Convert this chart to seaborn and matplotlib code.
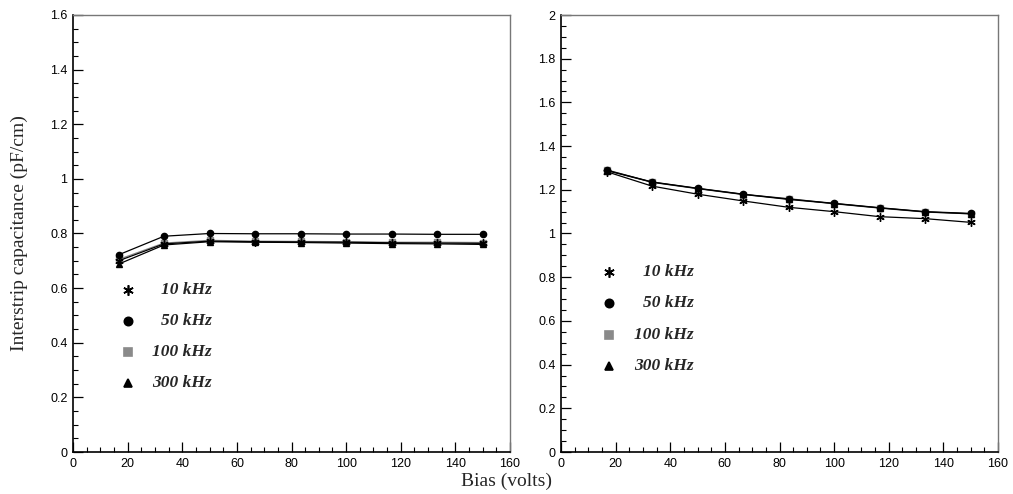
import numpy as np
import pandas as pd
import matplotlib
matplotlib.use("Agg")
import matplotlib.pyplot as plt
import seaborn as sns
from matplotlib.ticker import MultipleLocator, FixedLocator

# ---- data ----
bias = [16.7, 33.3, 50.0, 66.7, 83.3, 100.0, 116.7, 133.3, 150.0]
freqs = ["10 kHz", "50 kHz", "100 kHz", "300 kHz"]

left_10 = [0.700, 0.762, 0.772, 0.770, 0.769, 0.768, 0.766, 0.765, 0.764]
left_50 = [0.722, 0.790, 0.800, 0.799, 0.799, 0.798, 0.798, 0.797, 0.797]
left_100 = [0.705, 0.765, 0.775, 0.772, 0.771, 0.770, 0.768, 0.768, 0.767]
left_300 = [0.688, 0.758, 0.770, 0.768, 0.767, 0.765, 0.763, 0.762, 0.760]

right_10 = [1.283, 1.217, 1.180, 1.149, 1.120, 1.100, 1.077, 1.068, 1.051]
right_50 = [1.290, 1.236, 1.207, 1.180, 1.158, 1.138, 1.118, 1.100, 1.092]
right_100 = [1.292, 1.234, 1.205, 1.178, 1.160, 1.136, 1.116, 1.098, 1.090]
right_300 = [1.288, 1.235, 1.206, 1.179, 1.156, 1.137, 1.117, 1.099, 1.090]

xticks = [0, 20, 40, 60, 80, 100, 120, 140, 160]
left_yticks = [0, 0.2, 0.4, 0.6, 0.8, 1.0, 1.2, 1.4, 1.6]
right_yticks = [0, 0.2, 0.4, 0.6, 0.8, 1.0, 1.2, 1.4, 1.6, 1.8, 2.0]

def fmt(v):
    return f"{v:g}"

sns.set_theme(style="white")
plt.rcParams["font.family"] = ["Liberation Sans", "DejaVu Sans"]

fig = plt.figure(figsize=(10.13, 4.94), dpi=100)
axL = fig.add_axes([73/1013, 1-452/494, 437/1013, 437/494])
axR = fig.add_axes([561/1013, 1-452/494, 437/1013, 437/494])

asterisk = (6, 2, 0)
markers = {"10 kHz": asterisk, "50 kHz": "o", "100 kHz": "s", "300 kHz": "^"}
palette = {"10 kHz": "black", "50 kHz": "black", "100 kHz": "#8a8a8a", "300 kHz": "black"}
msizes = {"10 kHz": 6, "50 kHz": 4.5, "100 kHz": 4.5, "300 kHz": 4.5}
draw_order = ["100 kHz", "10 kHz", "300 kHz", "50 kHz"]

def make_df(vals):
    rows = []
    for f, v in zip(freqs, vals):
        for b, c in zip(bias, v):
            rows.append({"bias": b, "cap": c, "freq": f})
    return pd.DataFrame(rows)

dfL = make_df([left_10, left_50, left_100, left_300])
dfR = make_df([right_10, right_50, right_100, right_300])

def draw(ax, df, ymax, yticks, leg_x, leg_y0, leg_dy, text_x):
    for f in draw_order:
        sub = df[df["freq"] == f]
        sns.lineplot(data=sub, x="bias", y="cap", ax=ax, color=palette[f],
                     marker=markers[f], markersize=msizes[f], linewidth=0.9,
                     markeredgecolor=palette[f], markerfacecolor=palette[f],
                     markeredgewidth=1.0, legend=False, zorder=3)
    ax.set_xlim(0, 160)
    ax.set_ylim(0, ymax)
    ax.xaxis.set_major_locator(FixedLocator(xticks))
    ax.xaxis.set_minor_locator(MultipleLocator(5))
    ax.yaxis.set_major_locator(FixedLocator(yticks))
    ax.yaxis.set_minor_locator(MultipleLocator(0.05))
    ax.set_xticklabels([fmt(t) for t in xticks])
    ax.set_yticklabels([fmt(t) for t in yticks])
    ax.tick_params(axis="both", which="both", direction="in", bottom=True, left=True,
                   top=False, right=False, labelsize=9, colors="black", pad=4)
    ax.tick_params(which="major", length=7, width=0.9)
    ax.tick_params(which="minor", length=3.5, width=0.8)
    ax.set_xlabel("")
    ax.set_ylabel("")
    for s in ["left", "bottom"]:
        ax.spines[s].set_color("black")
        ax.spines[s].set_linewidth(1.2)
    for s in ["top", "right"]:
        ax.spines[s].set_color("#777777")
        ax.spines[s].set_linewidth(1.0)
    # legend drawn manually in axes coordinates
    for i, f in enumerate(freqs):
        y = leg_y0 - i * leg_dy
        ax.plot([leg_x], [y], transform=ax.transAxes, marker=markers[f],
                color=palette[f], markersize=msizes[f] + 1.5, linestyle="none",
                markeredgewidth=1.2, clip_on=False)
        ax.text(text_x, y, f, transform=ax.transAxes, ha="right", va="center",
                fontsize=12.5, style="italic", fontweight="semibold",
                family=["Liberation Serif", "DejaVu Serif"])

draw(axL, dfL, 1.6, left_yticks, (128-73)/437, (452-290)/437, 31/437, (212-73)/437)
draw(axR, dfR, 2.0, right_yticks, (609-561)/437, (452-272)/437, 31.3/437, (694-561)/437)

fig.text(19/1013, 1-233/494, "Interstrip capacitance (pF/cm)", rotation=90,
         ha="center", va="center", fontsize=14, family=["Liberation Serif", "DejaVu Serif"])
fig.text(506/1013, 1-481/494, "Bias (volts)", ha="center", va="center",
         fontsize=14, family=["Liberation Serif", "DejaVu Serif"])

fig.savefig("out.png", dpi=100, facecolor="white")
